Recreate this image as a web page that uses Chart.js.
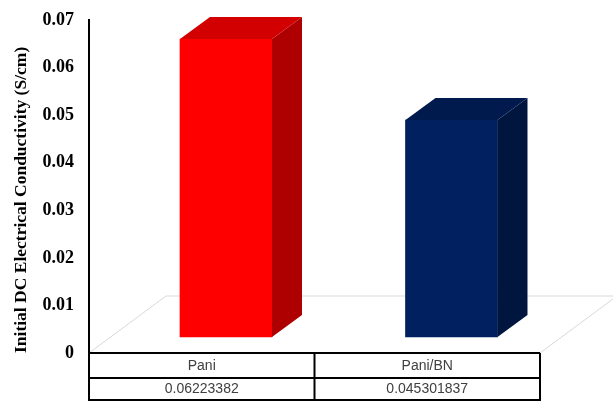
<!DOCTYPE html>
<html>
<head>
<meta charset="utf-8">
<script src="https://cdn.jsdelivr.net/npm/chart.js@4.4.0/dist/chart.umd.min.js"></script>
<style>
  html, body { margin: 0; padding: 0; background: #fff; }
  #wrap { width: 613px; height: 401px; }
</style>
</head>
<body>
<div id="wrap"><canvas id="conductivityChart"></canvas></div>
<script>
const samples = ["Pani", "Pani/BN"];
const conductivity = [0.06223382, 0.045301837];
const tableValues = ["0.06223382", "0.045301837"];
const yTicks = [0, 0.01, 0.02, 0.03, 0.04, 0.05, 0.06, 0.07];

const frontColors = ["#FF0000", "#002060"];
const topColors = ["#D20000", "#001A4E"];
const sideColors = ["#AE0000", "#00163F"];

// fake 3d look
const barDepth = { dx: 30, dy: -22 };
const floorDepth = { dx: 77, dy: -57 };

const bar3d = {
  id: "bar3d",
  beforeDatasetsDraw(chart) {
    const { ctx, chartArea } = chart;
    const l = chartArea.left, r = chartArea.right, b = chartArea.bottom;
    ctx.save();
    ctx.strokeStyle = "#D9D9D9";
    ctx.lineWidth = 1;
    ctx.beginPath();
    ctx.moveTo(l, b);
    ctx.lineTo(l + floorDepth.dx, b + floorDepth.dy);
    ctx.lineTo(r + floorDepth.dx, b + floorDepth.dy);
    ctx.lineTo(r, b);
    ctx.stroke();
    ctx.restore();
  },
  afterDatasetsDraw(chart) {
    const { ctx } = chart;
    const meta = chart.getDatasetMeta(0);
    ctx.save();
    meta.data.forEach((bar, i) => {
      const { x, y, base, width } = bar.getProps(["x", "y", "base", "width"], true);
      const left = x - width / 2, right = x + width / 2;
      const { dx, dy } = barDepth;

      ctx.fillStyle = sideColors[i];
      ctx.beginPath();
      ctx.moveTo(right, y);
      ctx.lineTo(right + dx, y + dy);
      ctx.lineTo(right + dx, base + dy);
      ctx.lineTo(right, base);
      ctx.closePath();
      ctx.fill();

      ctx.fillStyle = topColors[i];
      ctx.beginPath();
      ctx.moveTo(left, y);
      ctx.lineTo(left + dx, y + dy);
      ctx.lineTo(right + dx, y + dy);
      ctx.lineTo(right, y);
      ctx.closePath();
      ctx.fill();
    });
    ctx.restore();
  },
  afterDraw(chart) {
    // data table under the plot
    const { ctx, chartArea } = chart;
    const xs = chart.scales.x;
    const l = chartArea.left, r = chartArea.right;
    const top = chartArea.bottom;
    const rowH = 25;
    const bottom = chart.height;
    const half = (xs.getPixelForValue(1) - xs.getPixelForValue(0)) / 2;

    ctx.save();
    ctx.strokeStyle = "#000";
    ctx.lineWidth = 2;
    ctx.beginPath();
    ctx.moveTo(l, chartArea.top - 1);
    ctx.lineTo(l, bottom);
    [top, top + rowH, bottom - 1].forEach(yy => {
      ctx.moveTo(l, yy);
      ctx.lineTo(r, yy);
    });
    samples.forEach((s, i) => {
      const edge = xs.getPixelForValue(i) + half;
      ctx.moveTo(edge, top);
      ctx.lineTo(edge, bottom);
    });
    ctx.stroke();

    ctx.fillStyle = "#404040";
    ctx.font = "14px 'Liberation Sans', Arial, sans-serif";
    ctx.textAlign = "center";
    ctx.textBaseline = "middle";
    samples.forEach((s, i) => {
      const cx = xs.getPixelForValue(i);
      ctx.fillText(s, cx, top + rowH / 2 + 1);
      ctx.fillText(tableValues[i], cx, top + rowH + (bottom - top - rowH) / 2);
    });
    ctx.restore();
  }
};

const ctx = document.getElementById("conductivityChart").getContext("2d");

new Chart(ctx, {
  type: "bar",
  data: {
    labels: samples,
    datasets: [{
      data: conductivity.map((v, i) => ({ x: i, y: v })),
      backgroundColor: frontColors,
      borderWidth: 0,
      barThickness: 92,
      xAxisID: "xb",
      yAxisID: "yb"
    }]
  },
  options: {
    responsive: true,
    maintainAspectRatio: false,
    animation: false,
    layout: { padding: { top: 20, right: 73, bottom: 48, left: 0 } },
    plugins: {
      legend: { display: false },
      tooltip: { enabled: false }
    },
    scales: {
      x: { type: "category", display: false, offset: true },
      xb: { type: "linear", display: false, offset: false, grid: { offset: false }, min: -0.6075, max: 1.3925 },
      yb: { type: "linear", display: false, min: -0.00334, max: 0.0662 },
      y: {
        position: "left",
        min: 0,
        max: 0.07,
        afterFit: s => {
          s.width = 89;
          s.paddingTop = 0;
          s.paddingBottom = 0;
        },
        afterBuildTicks: s => { s.ticks = yTicks.map(v => ({ value: v })); },
        grid: { display: false, drawTicks: false },
        border: { display: true, color: "#000", width: 2 },
        ticks: {
          padding: 15,
          color: "#000",
          font: { family: "'Liberation Serif', 'Times New Roman', serif", size: 18, weight: "bold" },
          callback: v => (v === 0 ? "0" : v.toFixed(2))
        },
        title: {
          display: true,
          align: "start",
          text: "Initial DC Electrical Conductivity (S/cm)",
          color: "#000",
          padding: { top: 11, bottom: 0 },
          font: { family: "'Liberation Serif', 'Times New Roman', serif", size: 17.5, weight: "bold" }
        }
      }
    }
  },
  plugins: [bar3d]
});
</script>
</body>
</html>
